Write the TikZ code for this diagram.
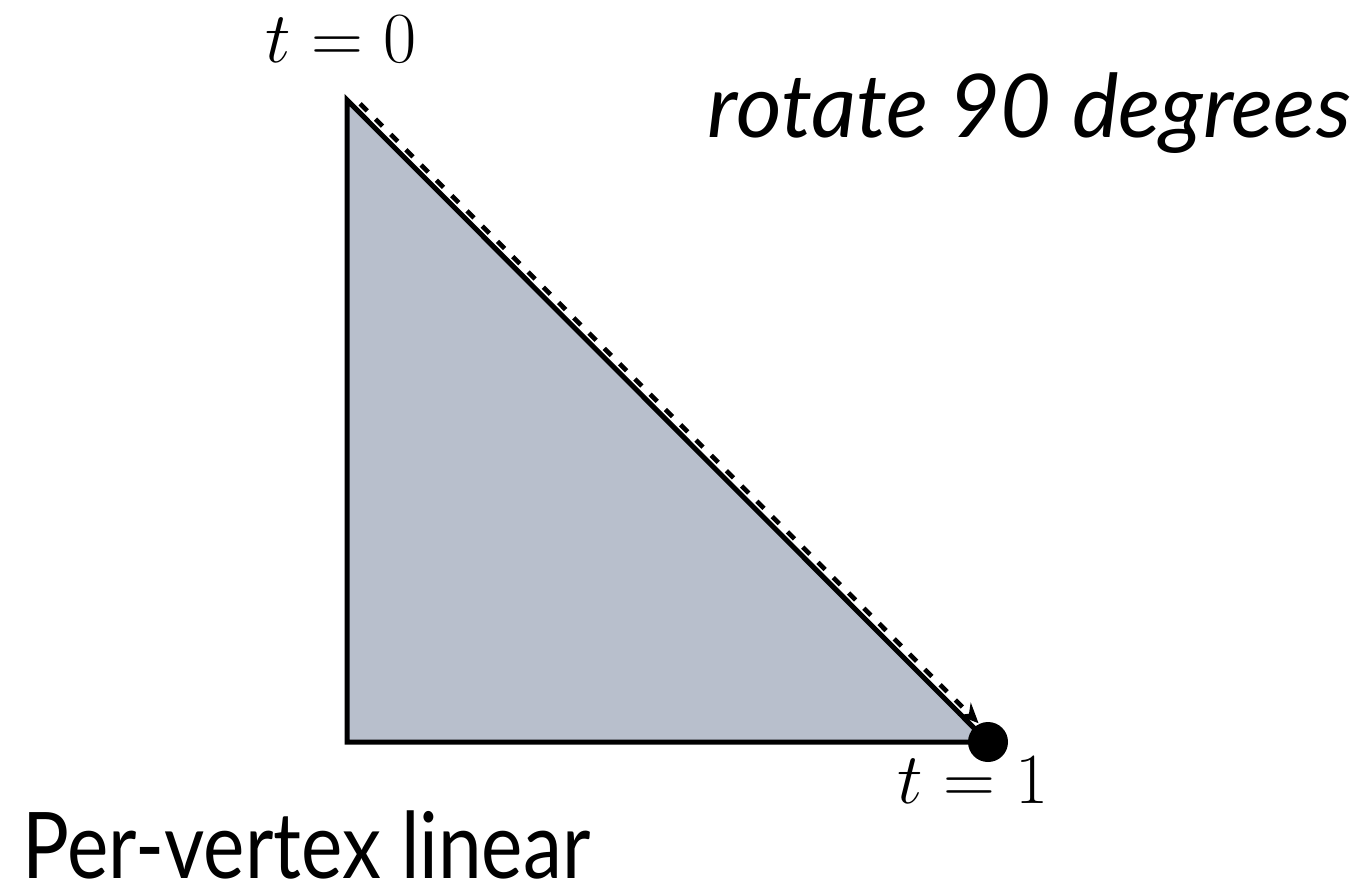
\RequirePackage{fix-cm}
\documentclass[tikz,border=0pt]{standalone}
\usepackage{fontspec}
\setmainfont{Lato}
\newfontfamily\narrowsans[FakeStretch=0.85]{Lato}
\usepackage{tikz}
\usetikzlibrary{arrows.meta,calc,positioning}
\definecolor{trifill}{RGB}{184,191,204}

\begin{document}
\begin{tikzpicture}[x=0.5pt,y=-0.5pt,>=Stealth,
    edge/.style={line width=2.5pt,line join=miter},
    vpath/.style={line width=2.3pt,dash pattern=on 5pt off 5.8pt},
    tlabel/.style={font=\fontsize{36}{40}\selectfont,anchor=base}]
  \useasboundingbox (0,0) rectangle (1370,890);
  % triangle corners
  \coordinate (top) at (347,100);
  \coordinate (corner) at (347,742);
  \coordinate (end) at (988,742);
  \fill[trifill] (top)--(corner)--(end)--cycle;
  % path followed by the vertex
  \draw[vpath,-{Stealth[length=10pt,width=9pt]},shorten <=6pt,shorten >=10pt]
    ($(top)!3.3pt!90:(end)$) -- ($(end)!3.3pt!-90:(top)$);
  \draw[edge] (top)--(corner)--(end)--cycle;
  \fill (end) circle[radius=10pt];
  \node[tlabel] (t0) at (341,62) {$t=0$};
  \node[tlabel] (t1) at (973,803) {$t=1$};
  \node[font=\fontsize{44}{48}\selectfont\itshape,anchor=base east] (rot) at (1358,137) {rotate 90 degrees};
  \node[font=\narrowsans\fontsize{46}{50}\selectfont,anchor=base west,inner sep=0pt] (title) at (22,878) {Per-vertex linear};
\end{tikzpicture}
\end{document}
